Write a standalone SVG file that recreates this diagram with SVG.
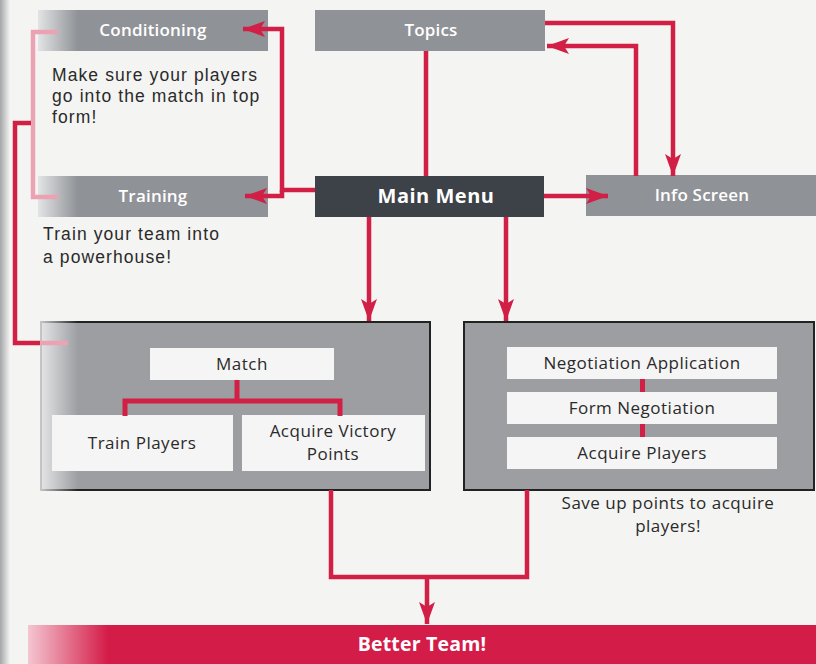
<svg xmlns="http://www.w3.org/2000/svg" width="816" height="664" viewBox="0 0 816 664">
<style>
.bar{fill:#8f9297}
.dark{fill:#3d4148}
.big{fill:#9c9ea2;stroke:#222;stroke-width:2}
.inner{fill:#f5f5f5}
.hd{font-family:"Open Sans","Liberation Sans",sans-serif;font-size:17px;font-weight:600;fill:#ffffff;text-anchor:middle;letter-spacing:0.2px}
.lbl{font-family:"Open Sans","Liberation Sans",sans-serif;font-size:17px;fill:#2a2a2a;text-anchor:middle;letter-spacing:0.5px}
.desc{font-family:"Liberation Sans",Arial,sans-serif;font-size:17.5px;fill:#2a2a2a;letter-spacing:1.1px}
.con{fill:none;stroke:#d11f45;stroke-width:4.5}
.pink{fill:none;stroke:#eba3b3;stroke-width:4.5}
</style>
<defs>
<marker id="ah" markerUnits="userSpaceOnUse" markerWidth="24" markerHeight="18" refX="22" refY="9" orient="auto">
<path d="M0,1 L22,9 L0,17 L5,9 z" fill="#d11f45"/>
</marker>
<linearGradient id="fadeL" x1="0" x2="1" y1="0" y2="0">
<stop offset="0" stop-color="#ffffff" stop-opacity="0.75"/>
<stop offset="1" stop-color="#ffffff" stop-opacity="0"/>
</linearGradient>
<linearGradient id="edge" x1="0" x2="1" y1="0" y2="0">
<stop offset="0" stop-color="#9a9d9f" stop-opacity="0.9"/>
<stop offset="1" stop-color="#9a9d9f" stop-opacity="0"/>
</linearGradient>
</defs>
<rect width="816" height="664" fill="#f4f4f2"/>
<rect x="0" y="0" width="10" height="664" fill="url(#edge)"/>

<g id="conditioning">
<rect class="bar" x="38" y="10" width="230" height="41"/>
<rect x="38" y="10" width="40" height="41" fill="url(#fadeL)"/>
<text class="hd" x="153" y="36">Conditioning</text>
<text class="desc" x="52" y="81">Make sure your players</text>
<text class="desc" x="52" y="102">go into the match in top</text>
<text class="desc" x="52" y="123">form!</text>
</g>

<g id="training">
<rect class="bar" x="38" y="176" width="230" height="41"/>
<rect x="38" y="176" width="40" height="41" fill="url(#fadeL)"/>
<text class="hd" x="153" y="202">Training</text>
<text class="desc" x="43" y="240">Train your team into</text>
<text class="desc" x="43" y="263">a powerhouse!</text>
</g>

<g id="topics">
<rect class="bar" x="315" y="10" width="230" height="41"/>
<text class="hd" x="431" y="36">Topics</text>
</g>

<g id="main-menu">
<rect class="dark" x="315" y="176" width="229" height="41"/>
<text class="hd" x="436" y="203" style="font-size:20px;font-weight:700;letter-spacing:0.5px">Main Menu</text>
</g>

<g id="info-screen">
<rect class="bar" x="586" y="175" width="230" height="41"/>
<text class="hd" x="702" y="201">Info Screen</text>
</g>

<g id="match-group">
<rect class="big" x="41" y="322" width="389" height="168"/>
<rect x="40" y="321" width="38" height="170" fill="url(#fadeL)"/>
<g id="match">
<rect class="inner" x="150" y="348" width="184" height="32"/>
<text class="lbl" x="242" y="370">Match</text>
</g>
<g id="train-players">
<rect class="inner" x="52" y="415" width="181" height="56"/>
<text class="lbl" x="142" y="449">Train Players</text>
</g>
<g id="acquire-victory-points">
<rect class="inner" x="242" y="415" width="183" height="56"/>
<text class="lbl" x="333" y="437">Acquire Victory</text>
<text class="lbl" x="333" y="460">Points</text>
</g>
</g>

<g id="negotiation-group">
<rect class="big" x="464" y="322" width="350" height="168"/>
<g id="negotiation-application">
<rect class="inner" x="507" y="347" width="270" height="32"/>
<text class="lbl" x="642" y="369">Negotiation Application</text>
</g>
<g id="form-negotiation">
<rect class="inner" x="507" y="392" width="270" height="32"/>
<text class="lbl" x="642" y="414">Form Negotiation</text>
</g>
<g id="acquire-players">
<rect class="inner" x="507" y="437" width="270" height="32"/>
<text class="lbl" x="642" y="459">Acquire Players</text>
</g>
<text class="lbl" x="668" y="509">Save up points to acquire</text>
<text class="lbl" x="668" y="532">players!</text>
</g>

<g id="better-team">
<rect x="28" y="625" width="788" height="39" fill="#d41c48"/>
<rect x="28" y="625" width="80" height="39" fill="url(#fadeL)"/>
<text class="hd" x="422" y="651" style="font-size:19.5px;font-weight:700">Better Team!</text>
</g>

<g id="connectors">
<path class="pink" d="M58,32 H33 V197 H58"/>
<path class="con" d="M31,123 H15 V343 H40"/>
<path class="pink" d="M40,343 H68"/>
<path class="con" d="M315,190 H282 V29 H243" marker-end="url(#ah)"/>
<path class="con" d="M282,190 V196 H245" marker-end="url(#ah)"/>
<path class="con" d="M426,51 V176"/>
<path class="con" d="M545,23 H673 V176" marker-end="url(#ah)"/>
<path class="con" d="M636,176 V46 H547" marker-end="url(#ah)"/>
<path class="con" d="M544,196 H608" marker-end="url(#ah)"/>
<path class="con" d="M369,217 V321" marker-end="url(#ah)"/>
<path class="con" d="M506,217 V321" marker-end="url(#ah)"/>
<path class="con" d="M237,380 V401 M125,416 V401 H340 V416" style="stroke-width:5"/>
<rect x="640" y="379" width="5" height="13" fill="#d11f45"/>
<rect x="640" y="424" width="5" height="13" fill="#d11f45"/>
<path class="con" d="M331,490 V577 H527 V490"/>
<path class="con" d="M427,577 V624" marker-end="url(#ah)"/>
</g>
</svg>
